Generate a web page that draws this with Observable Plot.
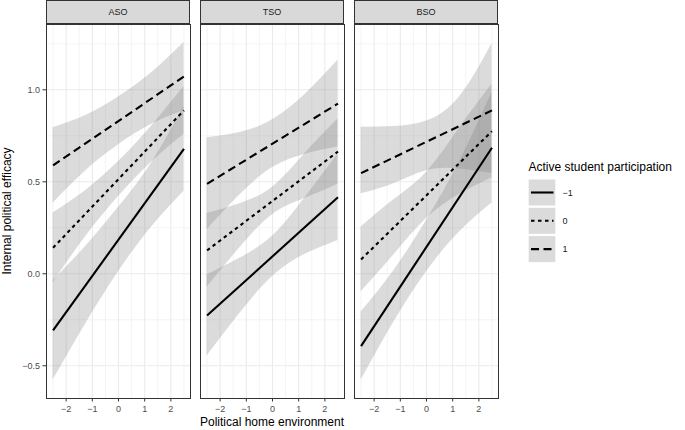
<!DOCTYPE html>
<html>
<head>
<meta charset="utf-8">
<script src="https://cdn.jsdelivr.net/npm/d3@7"></script>
<script src="https://cdn.jsdelivr.net/npm/@observablehq/plot@0.6"></script>
<style>
  html, body { margin: 0; padding: 0; background: white; }
  #chart { width: 685px; height: 430px; }
</style>
</head>
<body>
<div id="chart"></div>
<script>
// ---------- data ----------
const panels = ["ASO", "TSO", "BSO"];
const levels = ["\u22121", "0", "1"];
const xTicks = [-2, -1, 0, 1, 2];
const yTicks = [-0.5, 0, 0.5, 1.0];
const xMinor = [-2.5, -1.5, -0.5, 0.5, 1.5, 2.5];
const yMinor = [-0.25, 0.25, 0.75, 1.25];

// fitted lines (endpoints at x = -2.5 and 2.5), per level −1, 0, 1
const lineX = [-2.5, 2.5];
const lineASO = [[-0.308, 0.679], [0.141, 0.888], [0.589, 1.072]];
const lineTSO = [[-0.227, 0.416], [0.127, 0.664], [0.489, 0.925]];
const lineBSO = [[-0.393, 0.685], [0.078, 0.775], [0.547, 0.888]];

// confidence bands read at these x positions
const bandX = [-2.5, -1.25, 0, 1.25, 2.5];
const lowASO  = [[-0.578, -0.271, 0.011, 0.252, 0.449], [-0.049, 0.203, 0.420, 0.605, 0.758], [0.384, 0.560, 0.701, 0.811, 0.887]];
const highASO = [[-0.038, 0.149, 0.361, 0.600, 0.909], [0.331, 0.453, 0.610, 0.801, 1.018], [0.794, 0.860, 0.961, 1.091, 1.257]];
const lowTSO  = [[-0.447, -0.216, -0.015, 0.106, 0.181], [-0.073, 0.141, 0.321, 0.410, 0.487], [0.239, 0.428, 0.577, 0.650, 0.689]];
const highTSO = [[-0.007, 0.084, 0.205, 0.415, 0.651], [0.327, 0.381, 0.471, 0.655, 0.841], [0.739, 0.768, 0.837, 0.976, 1.161]];
const lowBSO  = [[-0.578, -0.263, 0.011, 0.226, 0.385], [-0.098, 0.102, 0.300, 0.431, 0.520], [0.435, 0.490, 0.560, 0.570, 0.545]];
const highBSO = [[-0.208, 0.017, 0.290, 0.606, 0.985], [0.254, 0.402, 0.552, 0.790, 1.030], [0.797, 0.800, 0.830, 0.960, 1.250]];

// ---------- styles ----------
const dashStyles = [null, "3.5,3.5", "8,4.5"];
const FONT = "'Liberation Sans', Arial, Helvetica, sans-serif";

// ---------- build tables ----------
const lineSets = {ASO: lineASO, TSO: lineTSO, BSO: lineBSO};
const lowSets = {ASO: lowASO, TSO: lowTSO, BSO: lowBSO};
const highSets = {ASO: highASO, TSO: highTSO, BSO: highBSO};
const lines = [], bands = [];
for (const p of panels) {
  levels.forEach((lev, i) => {
    lineX.forEach((x, j) => lines.push({panel: p, level: lev, x, y: lineSets[p][i][j]}));
    bandX.forEach((x, j) => bands.push({panel: p, level: lev, x, lo: lowSets[p][i][j], hi: highSets[p][i][j]}));
  });
}

const chart = Plot.plot({
  width: 685,
  height: 430,
  marginLeft: 45,
  marginRight: 185,
  marginTop: 24,
  marginBottom: 32,
  style: {fontFamily: FONT, background: "white"},
  x: {domain: [-2.75, 2.75]},
  y: {domain: [-0.678, 1.355]},
  fx: {domain: panels, paddingInner: 0.0645, paddingOuter: 0, axis: null, label: null},
  marks: [
    Plot.gridX(xMinor, {stroke: "#ebebeb", strokeOpacity: 1, strokeWidth: 0.55}),
    Plot.gridY(yMinor, {stroke: "#ebebeb", strokeOpacity: 1, strokeWidth: 0.55}),
    Plot.gridX(xTicks, {stroke: "#ebebeb", strokeOpacity: 1, strokeWidth: 1.1}),
    Plot.gridY(yTicks, {stroke: "#ebebeb", strokeOpacity: 1, strokeWidth: 1.1}),
    Plot.areaY(bands, {fx: "panel", x: "x", y1: "lo", y2: "hi", z: "level",
      fill: "#7f7f7f", fillOpacity: 0.28, curve: "natural"}),
    ...levels.map((lev, i) => Plot.lineY(lines.filter(d => d.level === lev), {
      fx: "panel", x: "x", y: "y", stroke: "black", strokeWidth: 2.1,
      strokeDasharray: dashStyles[i] ?? undefined, strokeLinecap: "butt"})),
    Plot.frame({stroke: "#333", strokeWidth: 1}),
    Plot.axisX(xTicks, {tickSize: 3.5, tickPadding: 4, fontSize: 9, color: "#4d4d4d", stroke: "#333",
      label: null, facetAnchor: "bottom", tickFormat: d3.format("d")}),
    Plot.axisY(yTicks, {tickSize: 3.5, tickPadding: 3, fontSize: 9, color: "#4d4d4d", stroke: "#333",
      label: null, facetAnchor: "left", tickFormat: d3.format(".1f")})
  ]
});

document.getElementById("chart").appendChild(chart);
const svg = d3.select(chart.tagName.toLowerCase() === "svg" ? chart : chart.querySelector("svg"));

// strips
const fx = chart.scale("fx");
const strips = svg.append("g");
for (const p of panels) {
  const x0 = fx.apply(p);
  strips.append("rect")
    .attr("x", x0 + 0.5).attr("y", 0.5)
    .attr("width", fx.bandwidth - 1).attr("height", 23)
    .attr("fill", "#d9d9d9").attr("stroke", "#333").attr("stroke-width", 1);
  strips.append("text")
    .attr("x", x0 + fx.bandwidth / 2).attr("y", 12)
    .attr("text-anchor", "middle").attr("dominant-baseline", "central")
    .attr("font-size", 9).attr("fill", "#1a1a1a").attr("font-family", FONT)
    .text(p);
}

// axis titles
svg.append("text")
  .attr("transform", "translate(10.5,211) rotate(-90)")
  .attr("text-anchor", "middle").attr("font-size", 12).attr("fill", "black")
  .attr("font-family", FONT)
  .text("Internal political efficacy");
svg.append("text")
  .attr("x", (fx.apply(panels[0]) + fx.apply(panels[2]) + fx.bandwidth) / 2).attr("y", 426)
  .attr("text-anchor", "middle").attr("font-size", 12).attr("fill", "black")
  .attr("font-family", FONT)
  .text("Political home environment");

// legend
const lg = svg.append("g").attr("font-family", FONT).attr("text-anchor", "start");
lg.append("text").attr("x", 528.5).attr("y", 171).attr("font-size", 12).attr("fill", "black")
  .attr("text-anchor", "start")
  .text("Active student participation");
levels.forEach((lev, i) => {
  const y0 = 179.5 + i * 28.3;
  lg.append("rect").attr("x", 528.7).attr("y", y0).attr("width", 26.6).attr("height", 26)
    .attr("fill", "#7f7f7f").attr("fill-opacity", 0.28);
  const ln = lg.append("line").attr("x1", 531).attr("x2", 553.5)
    .attr("y1", y0 + 13).attr("y2", y0 + 13)
    .attr("stroke", "black").attr("stroke-width", 2.1);
  if (dashStyles[i]) ln.attr("stroke-dasharray", dashStyles[i]);
  lg.append("text").attr("x", 562.5).attr("y", y0 + 13)
    .attr("text-anchor", "start")
    .attr("dominant-baseline", "central").attr("font-size", 9).attr("fill", "#1a1a1a")
    .text(lev);
});
</script>
</body>
</html>
